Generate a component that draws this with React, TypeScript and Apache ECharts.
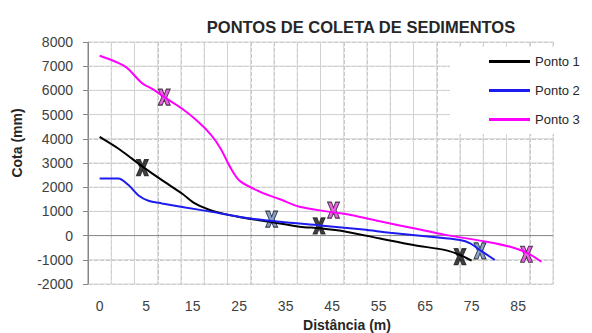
import React, { useEffect, useRef } from "react";
import * as echarts from "echarts";

// Category labels shown under the plot (one label per two grid cells)
const xLabels = ["0", "5", "15", "25", "35", "45", "55", "65", "75", "85"];

const seriesNames = ["Ponto 1", "Ponto 2", "Ponto 3"];

// Profiles: [distance, cota (mm)]
const ponto1: [number, number][] = [
  [0, 4080], [4, 3600], [6.9, 3190], [9.3, 2840], [13.4, 2290], [17.7, 1740],
  [20.5, 1330], [23.4, 1080], [25.5, 960], [30, 770], [36.6, 570], [43, 370],
  [47.4, 300], [53, 160], [60.3, -120], [67.5, -390], [74.6, -610], [77.5, -800],
  [80, -1030],
];

const ponto2: [number, number][] = [
  [0, 2360], [4, 2360], [6.2, 2090], [8.3, 1670], [10.5, 1440], [13.4, 1330],
  [18.4, 1165], [24.1, 980], [31.3, 735], [38.8, 570], [47.4, 420], [56.7, 250],
  [62.4, 116], [71.1, -50], [77.5, -186], [79.7, -322], [81.8, -599], [85, -1010],
];

const ponto3: [number, number][] = [
  [0, 7430], [4, 7140], [6, 6920], [9, 6320], [11.5, 6040], [14, 5710],
  [17.7, 5250], [21.2, 4700], [24, 4150], [26, 3600], [28.4, 2720], [30.2, 2250],
  [34.5, 1810], [38.8, 1500], [43, 1190], [49.5, 980], [54, 850], [60, 600],
  [67.5, 300], [74.6, 20], [83.2, -250], [88.3, -460], [91.8, -700], [95, -1080],
];

// Sampling points marked with an X on each profile
const coleta1: [number, number][] = [[9.2, 2810], [47.2, 400], [77.5, -870]];
const coleta2: [number, number][] = [[37, 680], [81.8, -630]];
const coleta3: [number, number][] = [[13.9, 5720], [50.3, 1050], [91.8, -770]];

// Axis ranges and grid steps
const X_MIN = -2.5;
const X_MAX = 97.5;
const X_STEP = 5;
const Y_MIN = -2000;
const Y_MAX = 8000;
const Y_STEP = 1000;

const lineColors = ["#000000", "#1c1cf0", "#ff00ff"];
const markerFills = ["#111111", "#6a8cc6", "#e83ae0"];

const xMark =
  "path://M0,0 L4,0 L6,5.5 L8,0 L12,0 L8.5,8 L12,16 L8,16 L6,10.5 L4,16 L0,16 L3.5,8 Z";

const FONT = "Liberation Sans";

function steps(from: number, to: number, step: number): number[] {
  const out: number[] = [];
  for (let v = from; v <= to + 1e-9; v += step) out.push(v);
  return out;
}

// Guide kinds: 0 horizontal grid, 1 vertical grid, 2 zero line, 3 left axis
const guides: [number, number][] = [
  ...steps(Y_MIN, Y_MAX, Y_STEP)
    .filter((v) => v !== 0)
    .map((v) => [0, v] as [number, number]),
  ...steps(X_MIN + X_STEP, X_MAX, X_STEP).map((v) => [1, v] as [number, number]),
  [2, 0],
  [3, X_MIN],
];

export default function App() {
  const ref = useRef<HTMLDivElement>(null);

  useEffect(() => {
    if (!ref.current) return;
    const chart = echarts.init(ref.current, undefined, { renderer: "svg" });

    const profiles = [ponto1, ponto2, ponto3];
    const coletas = [coleta1, coleta2, coleta3];

    const guideSeries = {
      name: "grade",
      type: "custom",
      silent: true,
      data: guides,
      renderItem: (_params: any, api: any) => {
        const kind = api.value(0);
        const v = api.value(1);
        const horizontal = kind === 0 || kind === 2;
        const a = horizontal ? api.coord([X_MIN, v]) : api.coord([v, Y_MIN]);
        const b = horizontal ? api.coord([X_MAX, v]) : api.coord([v, Y_MAX]);
        const isAxis = kind >= 2;
        return {
          type: "line",
          silent: true,
          shape: { x1: a[0], y1: a[1], x2: b[0], y2: b[1] },
          style: {
            stroke: isAxis ? "#868686" : "#d2d2d2",
            lineWidth: 1,
          },
        };
      },
    };

    const lineSeries = profiles.map((data, i) => ({
      name: seriesNames[i],
      type: "line",
      data,
      smooth: 0.3,
      symbol: "none",
      lineStyle: { color: lineColors[i], width: 2 },
      itemStyle: { color: lineColors[i] },
    }));

    const markerSeries = coletas.map((data, i) => ({
      name: "Coleta " + (i + 1),
      type: "scatter",
      data,
      symbol: xMark,
      symbolSize: [12, 16],
      itemStyle: {
        color: markerFills[i],
        borderColor: "#1a1a1a",
        borderWidth: 1,
      },
    }));

    chart.setOption({
      animation: false,
      backgroundColor: "#ffffff",
      title: {
        text: "PONTOS DE COLETA DE SEDIMENTOS",
        left: 356,
        top: 13,
        textAlign: "center",
        textStyle: {
          fontFamily: FONT,
          fontSize: 16.5,
          fontWeight: "bold",
          color: "#262626",
        },
      },
      legend: {
        data: seriesNames,
        orient: "vertical",
        left: 450,
        top: 47,
        padding: [8, 0, 8, 39],
        backgroundColor: "#ffffff",
        icon: "rect",
        itemWidth: 41,
        itemHeight: 3,
        itemGap: 16,
        textStyle: { fontFamily: FONT, fontSize: 13, color: "#262626" },
      },
      grid: { left: 88, right: 39, top: 42, bottom: 49 },
      xAxis: [
        { type: "value", min: X_MIN, max: X_MAX, show: false },
        {
          type: "category",
          position: "bottom",
          data: xLabels.flatMap((l) => [l, ""]),
          boundaryGap: true,
          axisLine: { show: false },
          axisTick: { show: false },
          axisLabel: {
            interval: 0,
            margin: 15,
            fontFamily: FONT,
            fontSize: 14,
            color: "#404040",
          },
          splitLine: {
            show: true,
            interval: 0,
            lineStyle: { color: "#c4c4c4", type: "dashed" },
          },
        },
      ],
      yAxis: {
        type: "value",
        min: Y_MIN,
        max: Y_MAX,
        interval: Y_STEP,
        axisLine: { show: true, onZero: false, lineStyle: { color: "#868686" } },
        axisLabel: {
          margin: 15,
          fontFamily: FONT,
          fontSize: 14,
          color: "#404040",
          formatter: (v: number) => String(v),
        },
        splitLine: {
          show: true,
          lineStyle: { color: "#c4c4c4", type: "dashed" },
        },
      },
      graphic: [
        {
          type: "text",
          x: 17,
          y: 143,
          rotation: Math.PI / 2,
          style: {
            text: "Cota (mm)",
            font: "bold 14px Liberation Sans",
            fill: "#262626",
            textAlign: "center",
            textVerticalAlign: "middle",
          },
        },
        {
          type: "text",
          x: 347,
          y: 325,
          style: {
            text: "Distância (m)",
            font: "bold 14px Liberation Sans",
            fill: "#262626",
            textAlign: "center",
            textVerticalAlign: "middle",
          },
        },
      ],
      series: [guideSeries, ...lineSeries, ...markerSeries],
    });

    return () => chart.dispose();
  }, []);

  return (
    <div
      ref={ref}
      style={{ position: "fixed", left: 0, top: 0, width: 592, height: 333, background: "#fff" }}
    />
  );
}
